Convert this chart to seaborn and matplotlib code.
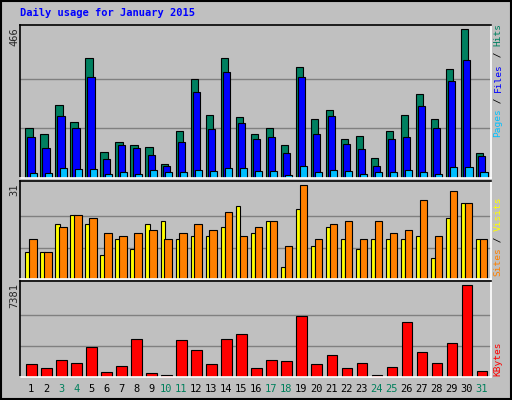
import numpy as np
import matplotlib
matplotlib.use("Agg")
import matplotlib.pyplot as plt
import seaborn as sns

# data
days = np.arange(1, 32)
weekend = [3, 4, 10, 11, 17, 18, 24, 25, 31]
hits = [155, 139, 228, 174, 377, 82, 114, 104, 98, 44, 146, 310, 196, 377, 190, 139, 158, 104, 348, 186, 212, 123, 130, 63, 146, 196, 263, 184, 342, 466, 79]
files = [127, 95, 193, 155, 317, 60, 104, 95, 73, 38, 114, 270, 152, 332, 171, 123, 127, 79, 317, 139, 193, 108, 92, 38, 123, 127, 225, 158, 304, 370, 70]
pages = [16, 16, 32, 28, 28, 13, 19, 13, 25, 19, 19, 25, 22, 32, 32, 22, 22, 9, 38, 19, 25, 22, 13, 19, 19, 25, 19, 13, 35, 35, 19]
visits = [9, 9, 18, 21, 18, 8, 13, 10, 18, 19, 13, 14, 14, 17, 24, 15, 19, 4, 23, 11, 17, 13, 10, 13, 13, 13, 14, 7, 20, 25, 13]
sites = [13, 9, 17, 21, 20, 15, 14, 15, 16, 13, 15, 18, 16, 22, 14, 17, 19, 11, 31, 13, 18, 19, 13, 19, 15, 16, 26, 14, 29, 25, 13]
kbytes = [1054, 730, 1379, 1135, 2433, 405, 892, 3001, 324, 162, 2920, 2190, 1054, 3001, 3406, 730, 1379, 1298, 4866, 1054, 1784, 730, 1135, 162, 811, 4380, 2028, 1135, 2758, 7381, 487]

BG = "#C0C0C0"
sns.set_style("white")
plt.rcParams["font.family"] = ["DejaVu Sans Mono"]

fig = plt.figure(figsize=(5.12, 4.0), dpi=100, facecolor=BG)
W, H = 512, 400

def add_ax(top, bottom):
    ax = fig.add_axes([20 / W, 1 - bottom / H, 471 / W, (bottom - top) / H])
    ax.set_facecolor(BG)
    ax.set_xlim(0.147, 31.5)
    for s in ["top", "left"]:
        ax.spines[s].set_color("black")
    for s in ["bottom", "right"]:
        ax.spines[s].set_color("white")
    for sp in ax.spines.values():
        sp.set_linewidth(1.2)
    ax.set_xticks([])
    ax.set_yticks([])
    return ax

ek = dict(edgecolor="black", linewidth=0.8, align="edge")

ax1 = add_ax(25, 178)
ax1.set_ylim(0, 479)
for g in (466 / 3, 466 * 2 / 3):
    ax1.axhline(g, color="#808080", lw=1, zorder=0)
ax1.bar(days - 0.5, hits, 0.49, color="#008060", **ek)
ax1.bar(days - 0.36, files, 0.49, color="#0000FF", **ek)
ax1.bar(days - 0.22, pages, 0.49, color="#00C0FF", **ek)

ax2 = add_ax(181, 279)
ax2.set_ylim(0, 32.2)
for g in (31 / 3, 31 * 2 / 3):
    ax2.axhline(g, color="#808080", lw=1, zorder=0)
ax2.bar(days - 0.5, visits, 0.3, color="#FFFF00", **ek)
ax2.bar(days - 0.24, sites, 0.49, color="#FF8000", **ek)

ax3 = add_ax(281, 377)
ax3.set_ylim(0, 7678)
for g in (7381 / 3, 7381 * 2 / 3):
    ax3.axhline(g, color="#808080", lw=1, zorder=0)
ax3.bar(days - 0.45, kbytes, 0.71, color="#FF0000", **ek)
ax3.set_xticks(days - 0.12)
ax3.set_xticklabels([str(d) for d in days], fontsize=7.5)
ax3.tick_params(axis="x", length=0, pad=5)
for lab, d in zip(ax3.get_xticklabels(), days):
    lab.set_color("#00805C" if d in weekend else "black")

fig.text(20 / W, 1 - 16 / H, "Daily usage for January 2015", color="#0000FF",
         fontsize=7.5, fontweight="bold", va="baseline")

# max labels on the left
for ax_top, lbl in [(27, "466"), (183, "31"), (283, "7381")]:
    fig.text(14 / W, 1 - ax_top / H, lbl, rotation=90, fontsize=7.5,
             ha="center", va="top")

# multi-coloured legends on the right
fs = 6.8
ch = 0.6 * fs * 100 / 72

def right_label(y_bottom, pieces):
    y = y_bottom
    for txt, col in pieces:
        fig.text(498 / W, 1 - y / H, txt, rotation=90, fontsize=fs, color=col,
                 ha="center", va="bottom")
        y -= len(txt) * ch

right_label(137, [("Pages", "#00C0FF"), (" / ", "black"), ("Files", "#0000FF"),
                  (" / ", "black"), ("Hits", "#008060")])
right_label(276, [("Sites", "#FF8000"), (" / ", "black"), ("Visits", "#FFFF00")])
right_label(376, [("KBytes", "#FF0000")])

# outer border
fig.patches.append(plt.Rectangle((0.002, 0.002), 0.996, 0.996, transform=fig.transFigure,
                                 fill=False, edgecolor="black", lw=1.5))

fig.savefig("out.png", dpi=100, facecolor=BG)
